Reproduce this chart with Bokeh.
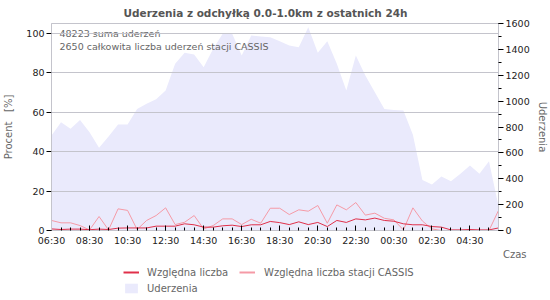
import pandas as pd
from bokeh.plotting import figure
from bokeh.layouts import column
from bokeh.models import (Range1d, LinearAxis, FixedTicker, SingleIntervalTicker, Legend,
                          LegendItem, Label, Title, DatetimeTickFormatter, ColumnDataSource)
from bokeh.embed import file_html
from bokeh.resources import INLINE

# ---- data ----
start_time = "2024-06-01 06:30"
n_bins = 48
times = pd.date_range(start_time, periods=n_bins, freq="30min")
tick_every = 4  # label every 2 hours

strikes = [734, 837, 786, 855, 760, 639, 726, 819, 819, 940, 979, 1015, 1082, 1288, 1373, 1360,
           1262, 1404, 1520, 1520, 1352, 1507, 1499, 1494, 1463, 1430, 1417, 1571, 1373, 1463, 1288, 1082,
           1352, 1198, 1069, 940, 932, 927, 740, 390, 355, 417, 381, 438, 502, 438, 536, 190]
rel_all = [0.8, 0.5, 0.7, 0.7, 0.4, 0.7, 0.5, 1.2, 1.3, 1.3, 1.3, 2.2, 2.2, 2.2, 3.4, 2.9,
           1.7, 1.7, 2.4, 2.7, 2.0, 2.9, 2.9, 4.6, 4.0, 3.0, 4.4, 3.0, 4.1, 2.0, 5.1, 4.1,
           5.9, 5.4, 6.3, 5.1, 4.7, 3.4, 2.9, 2.9, 2.0, 1.7, 0.3, 0.3, 0.5, 0.3, 0.3, 1.3]
rel_station = [5.1, 3.9, 3.9, 2.5, 0.3, 7.1, 0.3, 11.0, 10.2, 0.5, 5.1, 7.6, 11.5, 3.0, 4.2, 7.6,
               0.8, 2.5, 5.9, 5.9, 3.0, 5.7, 3.7, 11.3, 11.3, 8.1, 10.5, 9.8, 12.7, 3.7, 13.0, 10.5,
               14.2, 7.8, 8.8, 6.2, 5.4, 0.3, 11.5, 4.8, 0.8, 0.0, 0.0, 0.0, 0.0, 0.0, 0.0, 10.2]
total_strikes = 48223
station_strikes = 2650

title_text = "Uderzenia z odchyłką 0.0-1.0km z ostatnich 24h"
left_label = "Procent\u00a0\u00a0\u00a0[%]"
right_label = "Uderzenia"
x_label = "Czas"
legend_labels = ["Względna liczba", "Względna liczba stacji CASSIS", "Uderzenia"]
pct_ticks = [0, 20, 40, 60, 80, 100]

src = ColumnDataSource(dict(t=times, strikes=strikes, rel_all=rel_all, rel_station=rel_station))

FONT = "DejaVu Sans"
GRID = "#c4c4cc"
C_ALL = "#e0304a"
C_STATION = "#f59aa6"
C_AREA = "#eaeafc"

p = figure(width=550, height=262, x_axis_type="datetime", output_backend="svg",
           toolbar_location=None, title=None,
           x_range=Range1d(times[0], times[-1]), y_range=Range1d(0, 105.1),
           min_border_left=50, min_border_right=50, min_border_top=23, min_border_bottom=32)
p.extra_y_ranges = {"strikes": Range1d(0, 1600)}

ttl = Title(text=title_text, align="left", offset=72, standoff=9, text_font=FONT,
            text_font_size="10.5px", text_color="#555555", text_font_style="bold")
p.add_layout(ttl, "above")

p.outline_line_color = GRID
p.background_fill_color = "white"

# area (strikes) on right axis
area = p.varea(x="t", y1=0, y2="strikes", source=src, y_range_name="strikes", fill_color=C_AREA)
l_station = p.line(x="t", y="rel_station", source=src, line_color=C_STATION, line_width=1)
l_all = p.line(x="t", y="rel_all", source=src, line_color=C_ALL, line_width=1)

# x axis
xa = p.xaxis[0]
major = [times[i] for i in range(0, n_bins, tick_every)]
xa.ticker = FixedTicker(ticks=[t.value // 10**6 for t in major],
                        minor_ticks=[t.value // 10**6 for t in times])
xa.formatter = DatetimeTickFormatter(hours="%H:%M", minutes="%H:%M", days="%H:%M")
xa.major_tick_in = 5
xa.major_tick_out = 0
xa.minor_tick_in = 3
xa.minor_tick_out = 0
xa.major_tick_line_color = "black"
xa.minor_tick_line_color = "black"
xa.axis_line_color = GRID
xa.major_label_text_font = FONT
xa.major_label_text_font_size = "9.5px"
xa.major_label_text_color = "#222222"
xa.major_label_standoff = 4

# left axis
ya = p.yaxis[0]
ya.ticker = FixedTicker(ticks=pct_ticks)
ya.major_tick_in = 0
ya.major_tick_out = 5
ya.minor_tick_line_color = None
ya.major_tick_line_color = "black"
ya.axis_line_color = GRID
ya.major_label_text_font = FONT
ya.major_label_text_font_size = "9.5px"
ya.major_label_text_color = "#222222"
ya.major_label_standoff = 2
ya.axis_label = left_label
ya.axis_label_text_font = FONT
ya.axis_label_text_font_size = "10px"
ya.axis_label_text_font_style = "normal"
ya.axis_label_text_color = "#666666"
ya.axis_label_standoff = 9

# right axis
ra = LinearAxis(y_range_name="strikes", ticker=SingleIntervalTicker(interval=200, num_minor_ticks=2))
ra.major_tick_in = 0
ra.major_tick_out = 5
ra.minor_tick_in = 0
ra.minor_tick_out = 3
ra.major_tick_line_color = "black"
ra.minor_tick_line_color = "black"
ra.axis_line_color = GRID
ra.major_label_text_font = FONT
ra.major_label_text_font_size = "9.5px"
ra.major_label_text_color = "#222222"
ra.major_label_standoff = 2
ra.axis_label = right_label
ra.axis_label_text_font = FONT
ra.axis_label_text_font_size = "10px"
ra.axis_label_text_font_style = "normal"
ra.axis_label_text_color = "#666666"
ra.axis_label_standoff = 4
p.add_layout(ra, "right")

p.xgrid.visible = False
p.ygrid.ticker = FixedTicker(ticks=pct_ticks[1:])
p.ygrid.grid_line_color = GRID
p.ygrid.level = "overlay"

# info text
for k, txt in enumerate([f"{total_strikes} suma uderzeń",
                         f"{station_strikes} całkowita liczba uderzeń stacji CASSIS"]):
    p.add_layout(Label(x=8, y=197 - 13 * k, x_units="screen", y_units="screen", text=txt,
                       text_font=FONT, text_font_size="9.5px", text_color="#666666",
                       text_baseline="middle"))

czas = Title(text=x_label, align="right", offset=-28, standoff=0, vertical_align="top",
             text_font=FONT, text_font_size="10px", text_color="#666666",
             text_font_style="normal")
p.add_layout(czas, "below")

# ---- legend strip below ----
q = figure(width=550, height=38, output_backend="svg", toolbar_location=None,
           x_range=Range1d(0, 450), y_range=Range1d(0, 38),
           min_border_left=50, min_border_right=50, min_border_top=0, min_border_bottom=0)
q.axis.visible = False
q.grid.visible = False
q.outline_line_color = None
offscreen = ColumnDataSource(dict(x=[-50, -40], y=[-50, -50]))
g_all = q.line(x="x", y="y", source=offscreen, line_color=C_ALL, line_width=2)
g_station = q.line(x="x", y="y", source=offscreen, line_color=C_STATION, line_width=2)
g_area = q.varea(x="x", y1="y", y2="y", source=offscreen, fill_color=C_AREA)

leg_style = dict(orientation="vertical", padding=0, margin=0, spacing=4, glyph_width=16,
                 glyph_height=12, label_height=12, border_line_color=None,
                 background_fill_alpha=0, label_text_font=FONT, label_text_font_size="10px",
                 label_text_color="#666666")
legend_a = Legend(items=[LegendItem(label=legend_labels[0], renderers=[g_all]),
                         LegendItem(label=legend_labels[2], renderers=[g_area])],
                  location=(72, 6), label_standoff=8, **leg_style)
legend_b = Legend(items=[LegendItem(label=legend_labels[1], renderers=[g_station])],
                  location=(188, 22), label_standoff=9, **leg_style)
q.add_layout(legend_a, "center")
q.add_layout(legend_b, "center")

layout = column(p, q, spacing=0)
open("out.html", "w").write(file_html(layout, INLINE))
